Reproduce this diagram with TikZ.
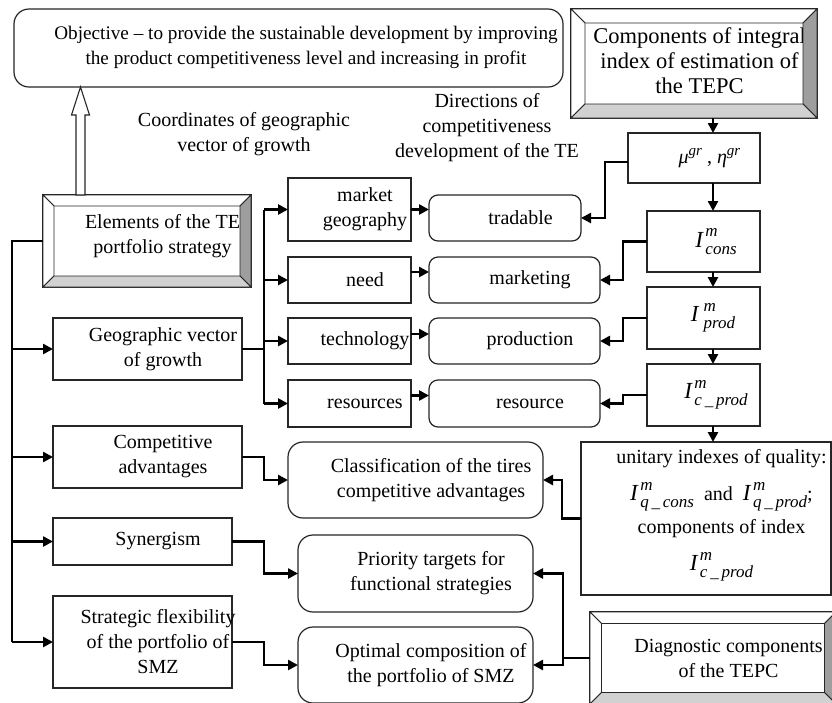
\documentclass[tikz,border=0pt]{standalone}
\usepackage{fontspec}
\setmainfont{Liberation Serif}
\usetikzlibrary{arrows.meta,calc}

\definecolor{bevdark}{gray}{0.62}
\definecolor{bevlight}{gray}{0.82}
\newcommand{\fs}{\fontsize{20}{25}\selectfont}
\newcommand{\sm}{\fontsize{17}{17}\selectfont}
% index I with upper m and lower subscript
\newcommand{\ind}[2]{{\fontsize{23}{23}\selectfont\textit{I}}\kern1.5pt\rlap{\raisebox{10.5pt}{\sm\textit{#1}}}\raisebox{-7pt}{\sm\textit{#2}}}
\newcommand{\gr}[1]{\textit{#1}\raisebox{8pt}{\fontsize{15}{15}\selectfont\textit{gr}}}
% bevel frame round a node: #1 name, #2 depth
\newcommand{\bevel}[2]{%
  \filldraw[bev, fill=white] (#1.north west) -- (#1.north east) -- ($(#1.north east)+(-#2,#2)$) -- ($(#1.north west)+(#2,#2)$) -- cycle;
  \filldraw[bev, fill=white] (#1.north west) -- ($(#1.north west)+(#2,#2)$) -- ($(#1.south west)+(#2,-#2)$) -- (#1.south west) -- cycle;
  \filldraw[bev, fill=bevdark] (#1.north east) -- ($(#1.north east)+(-#2,#2)$) -- ($(#1.south east)+(-#2,-#2)$) -- (#1.south east) -- cycle;
  \filldraw[bev, fill=bevlight] (#1.south west) -- ($(#1.south west)+(#2,-#2)$) -- ($(#1.south east)+(-#2,-#2)$) -- (#1.south east) -- cycle;
}

\tikzset{
  box/.style={draw=black!85, line width=1.2pt, inner sep=0pt, outer sep=0pt, fill=white},
  rbox/.style={box, rounded corners=9pt},
  sz/.style 2 args={minimum width=#1, minimum height=#2},
  txt/.style={font=\fs, align=center, inner sep=0pt},
  tx/.style={txt, xshift=15.5pt},
  link/.style={line width=2.8pt, -{Triangle[length=10pt,width=10pt]}},
  trunk/.style={line width=2.8pt},
  bev/.style={draw=black!85, line width=0.9pt},
  hollow/.style={draw=black!85, line width=1.1pt, fill=white},
}

\begin{document}
\begin{tikzpicture}[x=1pt,y=-1pt]
  \useasboundingbox (0,0) rectangle (832,702);

  % ---- top row
  \node[box, rounded corners=15pt, sz={549}{78},
    label={[tx,xshift=2pt,yshift=1pt,font=\fontsize{19.2}{25}\selectfont]center:Objective -- to provide the sustainable development by improving\\the product competitiveness level and increasing in profit}] (obj) at (288.5,48) {};
  \node[box, sz={246}{109},
    label={[tx,xshift=-10pt,yshift=3pt,font=\fontsize{22.5}{25}\selectfont]center:Components of integral\\index of estimation of\\the TEPC}] (tepc) at (694,63.5) {};
  \bevel{tepc}{14}

  \node[txt] (coord) at (244,134.5) {Coordinates of geographic\\vector of growth};
  \node[txt] (dir) at (487,127.5) {Directions of\\competitiveness\\development of the TE};

  % ---- left column
  \node[box, sz={208}{92},
    label={[tx,yshift=5pt]center:Elements of the TE\\portfolio strategy}] (elem) at (147,241) {};
  \bevel{elem}{11}
  \node[box, sz={189}{62}, label={[tx]center:Geographic vector\\of growth}] (geo) at (147.5,349) {};
  \node[box, sz={189}{62}, label={[tx]center:Competitive\\advantages}] (comp) at (147.5,457) {};
  \node[box, sz={179}{47}, label={[tx]center:Synergism}] (syn) at (142.5,541.5) {};
  \node[box, sz={179}{92}, label={[tx]center:Strategic flexibility\\of the portfolio of\\SMZ}] (strat) at (142.5,642) {};

  % ---- coordinates of the vector
  \node[box, sz={123}{63}, label={[tx]center:market\\geography}] (mgeo) at (349.5,209.5) {};
  \node[box, sz={123}{46}, label={[tx]center:need}] (need) at (349.5,280) {};
  \node[box, sz={123}{46}, label={[tx]center:technology}] (tech) at (349.5,341) {};
  \node[box, sz={123}{47}, label={[tx]center:resources}] (res) at (349.5,403.5) {};

  % ---- directions
  \node[rbox, sz={152}{46}, label={[tx]center:tradable}] (trad) at (505,218) {};
  \node[rbox, sz={171}{46}, label={[tx]center:marketing}] (mkt) at (514.5,280) {};
  \node[rbox, sz={171}{46}, label={[tx]center:production}] (prod) at (514.5,341) {};
  \node[rbox, sz={171}{47}, label={[tx]center:resource}] (resc) at (514.5,403.5) {};

  \node[box, rounded corners=15pt, sz={255}{76}, label={[tx]center:Classification of the tires\\competitive advantages}] (class) at (415.5,480) {};
  \node[box, rounded corners=15pt, sz={235}{77}, label={[tx]center:Priority targets for\\functional strategies}] (prio) at (415.5,573.5) {};
  \node[box, rounded corners=15pt, sz={235}{76}, label={[tx]center:Optimal composition of\\the portfolio of SMZ}] (opt) at (415.5,665) {};

  % ---- indexes
  \node[box, sz={132}{50}, label={[tx]center:{\gr{μ} , \gr{η}}}] (mu) at (694,158) {};
  \node[box, sz={113}{61}, label={[tx,xshift=-3pt]center:\ind{m}{cons}}] (icons) at (703.5,241.5) {};
  \node[box, sz={113}{62}, label={[tx,xshift=-6pt]center:\ind{\,m}{\,prod}}] (iprod) at (703.5,318) {};
  \node[box, sz={113}{62}, label={[tx,xshift=-3pt]center:\ind{m}{c\,\_\,prod}}] (icp) at (703.5,395) {};
  \node[box, sz={250}{153}, label={[tx,yshift=3pt]center:{unitary indexes of quality:\\[12pt]\ind{m}{q\,\_\,cons}\enspace and\enspace\ind{m}{q\,\_\,prod};\\[8pt]components of index\\[12pt]\ind{m}{c\,\_\,prod}}}] (unit) at (706,518.5) {};
  \node[box, sz={246}{92}, label={[tx]center:Diagnostic components\\of the TEPC}] (diag) at (713,658) {};
  \bevel{diag}{11.5}

  % ---- connectors
  \coordinate (hx) at (80.5,0);
  \draw[hollow] ($(elem.north -| hx)+(-4.5,0)$) -- ++(0,-80) -- ++(-4.5,0) -- (obj.south -| hx)
    -- ($(obj.south -| hx)+(9,28)$) -- ++(-4.5,0) -- ($(elem.north -| hx)+(4.5,0)$) -- cycle;

  \draw[trunk] (elem.west) -- ++(-31,0) coordinate (tr) -- (tr |- strat.west);
  \foreach \n in {geo,comp,syn,strat}
    \draw[link] (tr |- \n.west) -- (\n.west);

  \draw[trunk] (geo.east) -- ++(22,0) coordinate (fan);
  \draw[trunk] (fan |- mgeo.west) -- (fan |- res.west);
  \foreach \n in {mgeo,need,tech,res}
    \draw[link] (fan |- \n.west) -- (\n.west);

  \draw[link] (mgeo.east) -- (mgeo.east -| trad.west);
  \draw[link] ($(need.east)+(0,-8)$) -- ($(need.east -| mkt.west)+(0,-8)$);
  \draw[link] ($(tech.east)+(0,-7)$) -- ($(tech.east -| prod.west)+(0,-7)$);
  \draw[link] ($(res.east)+(0,-8)$) -- ($(res.east -| resc.west)+(0,-8)$);

  \coordinate (ax) at (713,0);
  \draw[link] (tepc.south -| ax) -- (mu.north -| ax);
  \draw[link] (mu.south -| ax) -- (icons.north -| ax);
  \draw[link] (icons.south -| ax) -- (iprod.north -| ax);
  \draw[link] (iprod.south -| ax) -- (icp.north -| ax);
  \draw[link] (icp.south -| ax) -- (unit.north -| ax);

  \draw[link] ($(mu.west)+(0,4)$) -- ++(-23,0) |- (trad.east);
  \draw[link] (icons.west) -- ++(-24,0) |- (mkt.east);
  \draw[link] (iprod.west) -- ++(-24,0) |- (prod.east);
  \draw[link] (icp.west) -- ++(-24,0) |- (resc.east);

  \draw[link] (comp.east) -- ++(22,0) |- (class.west);
  \draw[link] (syn.east) -- ++(32,0) |- (prio.west);
  \draw[link] (strat.east) -- ++(32,0) |- (opt.west);
  \draw[link] (unit.west) -- ++(-19,0) |- (class.east);
  \draw[trunk] (diag.west) -- ++(-27,0) coordinate (dj);
  \draw[link] (dj) |- (prio.east);
  \draw[link] (dj) |- (opt.east);
\end{tikzpicture}
\end{document}
